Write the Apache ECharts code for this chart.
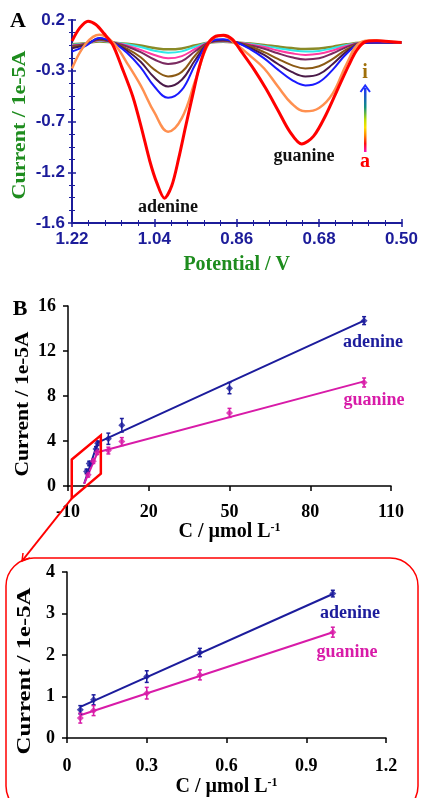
<!DOCTYPE html>
<html>
<head>
<meta charset="utf-8">
<script src="https://cdn.jsdelivr.net/npm/echarts@6/dist/echarts.min.js"></script>
<style>
html,body{margin:0;padding:0;background:#fff;}
#main{width:421px;height:798px;}
</style>
</head>
<body>
<div id="main"></div>
<script>
// A: DPV curves a..i, potential (V) vs current (1e-5 A)
// curve a is sharper, so it is read at its own potentials
const potentialsRed = [1.220, 1.203, 1.185, 1.168, 1.150, 1.131, 1.111, 1.087, 1.068, 1.050, 1.035, 1.018, 1.002, 0.987, 0.972, 0.957, 0.942, 0.926, 0.909, 0.889, 0.870, 0.848, 0.822, 0.796, 0.770, 0.744, 0.718, 0.692, 0.665, 0.639, 0.615, 0.598, 0.580, 0.554, 0.528, 0.500];
const curveA = [0.014, 0.13, 0.19, 0.16, 0.08, -0.02, -0.22, -0.48, -0.76, -1.05, -1.24, -1.38, -1.27, -1.03, -0.75, -0.48, -0.22, -0.03, 0.05, 0.065, 0.03, -0.09, -0.24, -0.41, -0.60, -0.79, -0.90, -0.83, -0.64, -0.41, -0.20, -0.07, 0.005, 0.015, 0.01, 0.0];
const potentials = [1.22, 1.19, 1.16, 1.13, 1.10, 1.07, 1.04, 1.01, 0.98, 0.95, 0.92, 0.89, 0.86, 0.83, 0.80, 0.77, 0.74, 0.71, 0.68, 0.65, 0.62, 0.59, 0.56, 0.53, 0.50];
const curveB = [-0.23, -0.01, 0.07, 0.0, -0.18, -0.38, -0.62, -0.79, -0.67, -0.33, 0.0, 0.06, -0.02, -0.12, -0.23, -0.39, -0.54, -0.61, -0.58, -0.45, -0.19, 0.0, 0.02, 0.01, 0.0];
const curveC = [-0.08, -0.03, 0.04, 0.0, -0.09, -0.22, -0.39, -0.49, -0.42, -0.19, 0.0, 0.03, 0.0, -0.06, -0.14, -0.24, -0.33, -0.38, -0.35, -0.24, -0.10, -0.01, 0.0, 0.0, 0.0];
const curveD = [-0.05, -0.02, 0.035, 0.0, -0.07, -0.17, -0.31, -0.39, -0.33, -0.15, 0.0, 0.025, 0.0, -0.05, -0.11, -0.19, -0.26, -0.30, -0.28, -0.19, -0.08, -0.01, 0.0, 0.0, 0.0];
const curveE = [-0.04, -0.015, 0.03, 0.0, -0.055, -0.13, -0.24, -0.30, -0.26, -0.11, 0.0, 0.02, 0.0, -0.035, -0.085, -0.145, -0.20, -0.23, -0.21, -0.145, -0.06, -0.01, 0.0, 0.0, 0.0];
const curveF = [-0.03, -0.01, 0.025, 0.0, -0.035, -0.085, -0.15, -0.19, -0.165, -0.075, 0.0, 0.015, 0.0, -0.025, -0.055, -0.095, -0.13, -0.15, -0.14, -0.095, -0.04, -0.005, 0.0, 0.0, 0.0];
const curveG = [-0.025, -0.01, 0.02, 0.0, -0.025, -0.065, -0.11, -0.14, -0.12, -0.055, 0.0, 0.012, 0.0, -0.018, -0.04, -0.07, -0.095, -0.11, -0.10, -0.07, -0.03, -0.004, 0.0, 0.0, 0.0];
const curveH = [-0.02, -0.008, 0.015, 0.0, -0.016, -0.04, -0.072, -0.09, -0.078, -0.035, 0.0, 0.01, 0.0, -0.013, -0.03, -0.05, -0.068, -0.08, -0.074, -0.05, -0.022, -0.003, 0.0, 0.0, 0.0];
const curveI = [-0.015, -0.006, 0.01, 0.0, -0.011, -0.027, -0.048, -0.06, -0.052, -0.024, 0.0, 0.008, 0.0, -0.009, -0.021, -0.036, -0.049, -0.057, -0.053, -0.036, -0.016, -0.002, 0.0, 0.0, 0.0];
const curves = [curveA, curveB, curveC, curveD, curveE, curveF, curveG, curveH, curveI];
const curveNames = ['a', 'b', 'c', 'd', 'e', 'f', 'g', 'h', 'i'];
const xLabelsA = ['1.22', '1.04', '0.86', '0.68', '0.50'];
const yLabelsA = ['-1.6', '-1.2', '-0.7', '-0.3', '0.2'];

// B: full calibration range (µmol/L)
const concAdeB = [-3.1, -2.1, 0.4, 1.0, 5, 10, 50, 100];
const adenineB = [1.3, 2.0, 3.3, 3.8, 4.2, 5.4, 8.7, 14.7];
const adenineErrB = [0.2, 0.2, 0.2, 0.2, 0.5, 0.6, 0.5, 0.35];
const concGuaB = [-2.5, -0.6, 0.85, 5, 10, 50, 100];
const guanineB = [1.0, 2.2, 3.0, 3.15, 3.95, 6.5, 9.2];
const guanineErrB = [0.2, 0.2, 0.2, 0.3, 0.35, 0.4, 0.4];
const adenineFitB = [[-4, 0.2], [1, 3.85], [100, 14.7]];
const guanineFitB = [[-4, 0.2], [1, 3.0], [100, 9.3]];
const xLabelsB = ['-10', '20', '50', '80', '110'];

// C: low range zoom
const concC = [0.05, 0.1, 0.3, 0.5, 1.0];
const adenineC = [0.68, 0.92, 1.48, 2.06, 3.48];
const adenineErrC = [0.1, 0.12, 0.14, 0.1, 0.08];
const guanineC = [0.48, 0.66, 1.08, 1.52, 2.55];
const guanineErrC = [0.12, 0.12, 0.14, 0.12, 0.12];
const adenineFitC = [[0.05, 0.75], [1.0, 3.47]];
const guanineFitC = [[0.05, 0.55], [1.0, 2.55]];

const colorsA = ['#ff0000', '#ff9050', '#1a1aff', '#4a1a48', '#8b5a14', '#7a2a60', '#ff3aa0', '#30e8e8', '#8a8a28'];
const widthsA = [3, 2.5, 2, 2, 2, 2, 2, 2, 2.5];
const blue = '#1c1c9c', magenta = '#d81ba8', navy = '#1c1c9a', green = '#1e8c1e';
const serif = 'Liberation Serif', sans = 'Liberation Sans';

// shifted axes so ticks fall on the printed labels
const shiftA = 1.22, shiftIA = 1.6, shiftB = 10;

let chart = echarts.init(document.getElementById('main'));

let frameA = {lineStyle: {color: navy, width: 2}};
let tickA = {length: 4, lineStyle: {color: navy, width: 1.5}};
let serifLabel = {color: '#000', fontFamily: serif, fontWeight: 'bold', fontSize: 18};
let blackLine = {lineStyle: {color: '#000', width: 1.5}};
let blackTick = {length: 5, lineStyle: {color: '#000', width: 1.5}};
let nameSerif = {color: '#000', fontFamily: serif, fontWeight: 'bold', fontSize: 20};
let cName = 'C / µmol L{s|-1}';
let cRich = {s: {fontFamily: serif, fontWeight: 'bold', fontSize: 12, verticalAlign: 'top', color: '#000'}};

function errBars(xs, ys, es, color, xi, shift) {
  return {
    type: 'custom', xAxisIndex: xi, yAxisIndex: xi, z: 4,
    data: xs.map((x, i) => [x + shift, ys[i], es[i]]),
    renderItem: (params, api) => {
      let x = api.value(0), y = api.value(1), e = api.value(2);
      let top = api.coord([x, y + e]), bot = api.coord([x, y - e]);
      let st = {stroke: color, lineWidth: 1.5};
      return {type: 'group', children: [
        {type: 'line', shape: {x1: top[0], y1: top[1], x2: bot[0], y2: bot[1]}, style: st},
        {type: 'line', shape: {x1: top[0] - 2, y1: top[1], x2: top[0] + 2, y2: top[1]}, style: st},
        {type: 'line', shape: {x1: bot[0] - 2, y1: bot[1], x2: bot[0] + 2, y2: bot[1]}, style: st}
      ]};
    }
  };
}
function points(xs, ys, color, xi, shift) {
  return {type: 'scatter', xAxisIndex: xi, yAxisIndex: xi, symbol: 'diamond', symbolSize: 7, z: 5,
    itemStyle: {color: color}, data: xs.map((x, i) => [x + shift, ys[i]])};
}
function fit(pts, color, xi, shift) {
  return {type: 'line', xAxisIndex: xi, yAxisIndex: xi, showSymbol: false, z: 3,
    lineStyle: {color: color, width: 2}, data: pts.map(p => [p[0] + shift, p[1]])};
}

let series = [];
for (let k = curves.length - 1; k >= 0; k--) {
  let xs = k === 0 ? potentialsRed : potentials;
  series.push({
    name: curveNames[k], type: 'line', xAxisIndex: 0, yAxisIndex: 0, showSymbol: false, smooth: k === 0 ? 0.3 : 0.4,
    lineStyle: {color: colorsA[k], width: widthsA[k]},
    data: xs.map((p, i) => [shiftA - p, curves[k][i] + shiftIA])
  });
}
series.push(fit(adenineFitB, blue, 2, shiftB), fit(guanineFitB, magenta, 2, shiftB));
series.push(errBars(concAdeB, adenineB, adenineErrB, blue, 2, shiftB), errBars(concGuaB, guanineB, guanineErrB, magenta, 2, shiftB));
series.push(points(concAdeB, adenineB, blue, 2, shiftB), points(concGuaB, guanineB, magenta, 2, shiftB));
series.push(fit(adenineFitC, blue, 3, 0), fit(guanineFitC, magenta, 3, 0));
series.push(errBars(concC, adenineC, adenineErrC, blue, 3, 0), errBars(concC, guanineC, guanineErrC, magenta, 3, 0));
series.push(points(concC, adenineC, blue, 3, 0), points(concC, guanineC, magenta, 3, 0));

let option = {
  animation: false,
  backgroundColor: '#fff',
  grid: [
    {left: 72, top: 20, width: 331, height: 203},
    {left: 68, top: 306, width: 323, height: 180},
    {left: 67, top: 572, width: 319, height: 166}
  ],
  xAxis: [
    {gridIndex: 0, type: 'value', min: 0, max: 0.72, interval: 0.18, position: 'bottom',
      axisLine: frameA, axisTick: tickA,
      minorTick: {show: true, splitNumber: 5, length: 3, lineStyle: {color: navy, width: 1}},
      splitLine: {show: false},
      axisLabel: {margin: 8, color: navy, fontFamily: sans, fontWeight: 'bold', fontSize: 17,
        formatter: v => xLabelsA[Math.round(v / 0.18)]},
      name: 'Potential / V', nameLocation: 'middle', nameGap: 32,
      nameTextStyle: {color: green, fontFamily: serif, fontWeight: 'bold', fontSize: 20}},
    {gridIndex: 0, type: 'value', min: 0, max: 0.72, interval: 0.18, position: 'top',
      axisLine: frameA, axisTick: tickA,
      minorTick: {show: true, splitNumber: 5, length: 3, lineStyle: {color: navy, width: 1}},
      splitLine: {show: false}, axisLabel: {show: false}},
    {gridIndex: 1, type: 'value', min: 0, max: 120, interval: 30,
      axisLine: blackLine, axisTick: blackTick, splitLine: {show: false},
      axisLabel: Object.assign({margin: 17, formatter: v => xLabelsB[Math.round(v / 30)]}, serifLabel),
      name: cName, nameLocation: 'middle', nameGap: 36,
      nameTextStyle: Object.assign({rich: cRich}, nameSerif)},
    {gridIndex: 2, type: 'value', min: 0, max: 1.2, interval: 0.3,
      axisLine: blackLine, axisTick: blackTick, splitLine: {show: false},
      axisLabel: Object.assign({margin: 19, formatter: v => v === 0 ? '0' : v.toFixed(1)}, serifLabel),
      name: cName, nameLocation: 'middle', nameGap: 39,
      nameTextStyle: Object.assign({rich: cRich}, nameSerif)}
  ],
  yAxis: [
    {gridIndex: 0, type: 'value', min: 0, max: 1.8, interval: 0.45, position: 'left',
      axisLine: frameA, axisTick: tickA,
      minorTick: {show: true, splitNumber: 4, length: 3, lineStyle: {color: navy, width: 1}},
      splitLine: {show: false},
      axisLabel: {margin: 7, color: navy, fontFamily: sans, fontWeight: 'bold', fontSize: 17,
        formatter: v => yLabelsA[Math.round(v / 0.45)]}},
    {gridIndex: 0, type: 'value', min: 0, max: 1.8, interval: 0.45, position: 'right',
      axisLine: frameA, axisTick: tickA,
      minorTick: {show: true, splitNumber: 4, length: 3, lineStyle: {color: navy, width: 1}},
      splitLine: {show: false}, axisLabel: {show: false}},
    {gridIndex: 1, type: 'value', min: 0, max: 16, interval: 4,
      axisLine: blackLine, axisTick: blackTick, splitLine: {show: false},
      axisLabel: Object.assign({margin: 12}, serifLabel)},
    {gridIndex: 2, type: 'value', min: 0, max: 4, interval: 1,
      axisLine: blackLine, axisTick: blackTick, splitLine: {show: false},
      axisLabel: Object.assign({margin: 12}, serifLabel)}
  ],
  series: series
};
chart.setOption(option);

// zoom frame on panel B (data coords, shifted x)
let frameB = [[-8.6, 2.35], [2.2, 4.5], [2.2, 1.1], [-8.6, -1.1]]
  .map(p => chart.convertToPixel({xAxisIndex: 2, yAxisIndex: 2}, [p[0] + shiftB, p[1]]));
let corner = frameB[3];
let tip = [22, 561];

function txt(x, y, s, color, size, font) {
  return {type: 'text', x: x, y: y, z: 20, style: {text: s, fill: color, font: 'bold ' + size + 'px "' + (font || serif) + '"',
    textAlign: 'center', textVerticalAlign: 'middle'}};
}
// the y titles are stretched along their length in the original
function ytitle(x, y, color, stretch) {
  let t = txt(x, y, 'Current / 1e-5A', color, 19);
  t.rotation = Math.PI / 2;
  t.scaleX = stretch;
  return t;
}

chart.setOption({graphic: [
  txt(18, 21, 'A', '#000', 22),
  txt(20, 309, 'B', '#000', 22),
  ytitle(20, 125, green, 1.16),
  ytitle(23, 404, '#000', 1.13),
  ytitle(25, 671, '#000', 1.3),
  txt(168, 207, 'adenine', '#111', 18),
  txt(304, 156, 'guanine', '#111', 18),
  txt(365, 73, 'i', '#a0700a', 20),
  txt(365, 162, 'a', '#ff0000', 20),
  {type: 'rect', z: 20, shape: {x: 364, y: 88, width: 2.5, height: 64},
    style: {fill: {type: 'linear', x: 0, y: 0, x2: 0, y2: 1, colorStops: [
      {offset: 0, color: '#2030ff'}, {offset: 0.3, color: '#109080'}, {offset: 0.5, color: '#c0e000'},
      {offset: 0.62, color: '#ffe000'}, {offset: 0.75, color: '#ff8000'}, {offset: 0.87, color: '#ff1010'},
      {offset: 1, color: '#ff10c0'}]}}},
  {type: 'polyline', z: 20, shape: {points: [[360.5, 92], [365.2, 85.5], [370, 92]]}, style: {stroke: '#2030ff', lineWidth: 2, fill: null}},
  txt(373, 342, 'adenine', blue, 18),
  txt(374, 400, 'guanine', magenta, 18),
  txt(350, 613, 'adenine', blue, 18),
  txt(347, 652, 'guanine', magenta, 18),
  {type: 'polygon', z: 20, shape: {points: frameB}, style: {stroke: '#ff0000', lineWidth: 2.5, fill: null}},
  {type: 'line', z: 20, shape: {x1: corner[0], y1: corner[1], x2: tip[0], y2: tip[1]}, style: {stroke: '#ff0000', lineWidth: 2}},
  {type: 'polyline', z: 20, shape: {points: [[tip[0] + 1, tip[1] - 8], [tip[0], tip[1]], [tip[0] + 8, tip[1] - 3]]},
    style: {stroke: '#ff0000', lineWidth: 1.5, fill: null}},
  {type: 'rect', z: 1, shape: {x: 6, y: 558, width: 412, height: 256, r: 28}, style: {stroke: '#ff0000', lineWidth: 1.5, fill: null}}
]});
</script>
</body>
</html>
